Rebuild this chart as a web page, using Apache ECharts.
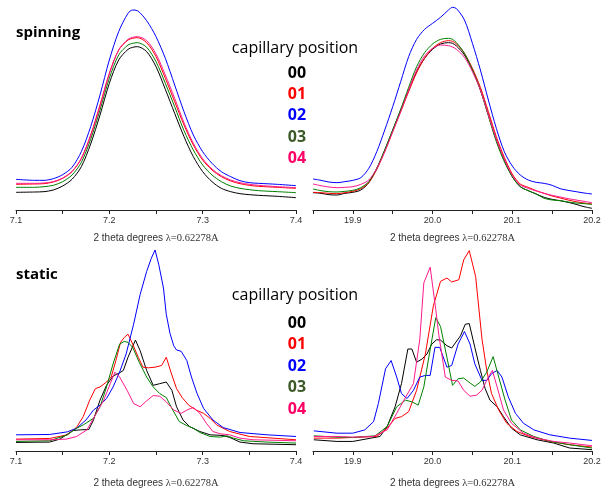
<!DOCTYPE html>
<html>
<head>
<meta charset="utf-8">
<script src="https://cdn.jsdelivr.net/npm/echarts@6/dist/echarts.min.js"></script>
<style>
  html, body { margin: 0; padding: 0; background: #fff; }
  #chart { width: 607px; height: 490px; }
</style>
</head>
<body>
<div id="chart"></div>
<script>
// Capillary positions and their colours
const positions = ['00', '01', '02', '03', '04'];
const lineColors = ['#000000', '#ff0000', '#0000ff', '#008000', '#ff1a8c'];
const labelColors = ['#000000', '#ff0000', '#0000ff', '#3b5a27', '#ff0066'];

// Axis tick labels (major) and ranges
const lowTicks = [7.1, 7.2, 7.3, 7.4];
const highTicks = [19.9, 20.0, 20.1, 20.2];

// ---- spinning, 7.1 - 7.4 deg ----
const spinLowX = [7.10, 7.12, 7.13, 7.14, 7.15, 7.16, 7.17, 7.18, 7.19, 7.20, 7.21, 7.22, 7.225, 7.23, 7.24, 7.25, 7.26, 7.27, 7.28, 7.29, 7.30, 7.31, 7.32, 7.33, 7.34, 7.35, 7.36, 7.38, 7.40];
const spinLow00 = [53, 54, 55, 60, 72, 92, 130, 198, 285, 380, 450, 482, 488, 490, 475, 430, 362, 290, 220, 160, 115, 85, 65, 55, 49, 46, 44, 41, 37];
const spinLow01 = [77, 78, 79, 84, 95, 115, 155, 225, 315, 410, 480, 510, 515, 517, 502, 460, 395, 325, 255, 195, 150, 120, 100, 87, 79, 74, 71, 68, 65];
const spinLow02 = [92, 89, 89, 94, 106, 128, 175, 250, 345, 450, 535, 590, 600, 598, 568, 520, 455, 375, 295, 225, 175, 140, 115, 100, 88, 82, 80, 77, 73];
const spinLow03 = [68, 68, 70, 74, 85, 105, 143, 212, 300, 395, 465, 495, 500, 502, 488, 445, 380, 310, 238, 180, 135, 105, 85, 72, 65, 61, 58, 55, 52];
const spinLow04 = [80, 80, 81, 85, 96, 116, 154, 222, 310, 408, 480, 512, 518, 520, 508, 468, 405, 335, 262, 200, 154, 123, 103, 90, 82, 77, 74, 70, 67];

// ---- spinning, 19.85 - 20.2 deg ----
const spinHighX = [19.85, 19.86, 19.87, 19.88, 19.89, 19.90, 19.91, 19.92, 19.93, 19.94, 19.95, 19.96, 19.97, 19.98, 19.99, 20.00, 20.01, 20.02, 20.025, 20.03, 20.04, 20.05, 20.06, 20.07, 20.08, 20.09, 20.10, 20.11, 20.12, 20.13, 20.14, 20.15, 20.16, 20.17, 20.18, 20.19, 20.20];
const spinHigh00 = [52, 50, 46, 45, 50, 53, 60, 82, 125, 180, 240, 300, 360, 415, 455, 482, 498, 502, 500, 492, 465, 420, 360, 285, 210, 150, 100, 70, 58, 48, 38, 32, 28, 23, 17, 10, 5];
const spinHigh01 = [53, 52, 50, 49, 52, 56, 64, 82, 122, 175, 235, 295, 355, 412, 455, 485, 502, 508, 506, 498, 470, 425, 368, 295, 220, 158, 108, 78, 68, 58, 50, 42, 36, 30, 25, 21, 18];
const spinHigh02 = [93, 89, 84, 82, 85, 89, 97, 125, 175, 240, 310, 385, 460, 512, 542, 560, 578, 600, 608, 604, 570, 500, 420, 330, 245, 175, 132, 105, 90, 83, 80, 74, 64, 59, 55, 51, 48];
const spinHigh03 = [63, 58, 55, 54, 56, 59, 67, 85, 125, 180, 240, 302, 368, 430, 472, 498, 512, 515, 512, 502, 470, 420, 360, 282, 205, 145, 100, 70, 58, 48, 35, 30, 28, 24, 21, 19, 17];
const spinHigh04 = [78, 73, 69, 67, 68, 70, 77, 90, 125, 175, 235, 295, 360, 420, 462, 485, 495, 493, 489, 482, 458, 415, 360, 285, 212, 152, 104, 75, 65, 57, 50, 44, 39, 34, 30, 26, 22];

// ---- static, 7.1 - 7.4 deg : [2theta, intensity] ----
const statLow00 = [[7.100, 26], [7.136, 27], [7.147, 36], [7.161, 62], [7.169, 64], [7.178, 65], [7.183, 94], [7.190, 154], [7.197, 199], [7.204, 227], [7.211, 237], [7.215, 244], [7.220, 284], [7.228, 336], [7.233, 304], [7.240, 244], [7.247, 199], [7.254, 204], [7.261, 209], [7.267, 184], [7.272, 134], [7.279, 94], [7.286, 74], [7.297, 59], [7.308, 49], [7.322, 47], [7.329, 41], [7.340, 27], [7.354, 22], [7.400, 19]];
const statLow01 = [[7.100, 36], [7.136, 38], [7.155, 49], [7.165, 72], [7.172, 104], [7.179, 154], [7.185, 189], [7.190, 194], [7.197, 209], [7.202, 224], [7.207, 274], [7.212, 329], [7.216, 344], [7.220, 354], [7.225, 324], [7.231, 284], [7.236, 254], [7.242, 252], [7.249, 254], [7.256, 259], [7.261, 284], [7.266, 239], [7.272, 189], [7.278, 162], [7.285, 139], [7.293, 124], [7.301, 114], [7.308, 99], [7.315, 79], [7.329, 59], [7.350, 44], [7.400, 34]];
const statLow02 = [[7.100, 49], [7.136, 50], [7.155, 58], [7.165, 69], [7.175, 94], [7.183, 124], [7.190, 139], [7.197, 159], [7.204, 194], [7.211, 239], [7.218, 294], [7.226, 384], [7.233, 474], [7.240, 544], [7.245, 584], [7.249, 609], [7.253, 564], [7.258, 494], [7.261, 414], [7.265, 356], [7.269, 319], [7.272, 306], [7.277, 302], [7.283, 274], [7.288, 224], [7.294, 174], [7.301, 129], [7.311, 94], [7.322, 71], [7.340, 56], [7.369, 49], [7.400, 44]];
const statLow03 = [[7.100, 29], [7.136, 31], [7.155, 49], [7.165, 69], [7.172, 79], [7.183, 99], [7.190, 134], [7.197, 194], [7.204, 264], [7.211, 324], [7.216, 332], [7.220, 329], [7.225, 314], [7.232, 269], [7.240, 224], [7.247, 194], [7.254, 174], [7.261, 162], [7.268, 124], [7.275, 89], [7.283, 77], [7.290, 69], [7.297, 56], [7.308, 44], [7.319, 42], [7.326, 46], [7.333, 39], [7.344, 31], [7.369, 27], [7.400, 24]];
const statLow04 = [[7.100, 34], [7.136, 34], [7.154, 36], [7.165, 44], [7.176, 64], [7.186, 114], [7.194, 154], [7.201, 204], [7.206, 239], [7.211, 224], [7.219, 184], [7.226, 144], [7.233, 134], [7.240, 152], [7.247, 168], [7.254, 166], [7.261, 149], [7.269, 124], [7.277, 114], [7.283, 124], [7.290, 132], [7.297, 114], [7.304, 84], [7.311, 59], [7.319, 52], [7.329, 49], [7.340, 39], [7.354, 34], [7.400, 31]];

// ---- static, 19.85 - 20.2 deg : [2theta, intensity] ----
const statHigh00 = [[19.851, 34], [19.880, 29], [19.900, 29], [19.934, 44], [19.943, 74], [19.953, 134], [19.961, 204], [19.969, 309], [19.974, 309], [19.980, 269], [19.987, 279], [19.993, 294], [19.999, 324], [20.005, 337], [20.010, 336], [20.018, 319], [20.024, 312], [20.035, 349], [20.041, 384], [20.046, 386], [20.053, 314], [20.060, 244], [20.066, 189], [20.072, 154], [20.081, 134], [20.089, 104], [20.099, 69], [20.110, 49], [20.131, 34], [20.152, 24], [20.172, 9], [20.200, 4]];
const statHigh01 = [[19.851, 39], [19.880, 39], [19.900, 41], [19.930, 44], [19.943, 69], [19.953, 99], [19.961, 104], [19.970, 119], [19.980, 184], [19.991, 294], [20.001, 440], [20.010, 514], [20.018, 524], [20.024, 512], [20.033, 519], [20.039, 579], [20.046, 607], [20.054, 529], [20.062, 339], [20.068, 244], [20.074, 174], [20.083, 124], [20.093, 84], [20.106, 59], [20.122, 44], [20.147, 29], [20.172, 19], [20.200, 12]];
const statHigh02 = [[19.851, 61], [19.880, 54], [19.900, 54], [19.915, 64], [19.926, 89], [19.932, 144], [19.941, 249], [19.948, 274], [19.955, 224], [19.961, 174], [19.968, 159], [19.976, 184], [19.984, 224], [19.991, 229], [19.997, 229], [20.003, 314], [20.009, 314], [20.018, 254], [20.024, 259], [20.032, 324], [20.040, 362], [20.047, 324], [20.053, 264], [20.062, 214], [20.068, 214], [20.074, 234], [20.081, 244], [20.087, 224], [20.095, 164], [20.104, 114], [20.114, 84], [20.127, 64], [20.147, 49], [20.172, 39], [20.200, 32]];
const statHigh03 = [[19.851, 46], [19.880, 42], [19.900, 41], [19.928, 46], [19.943, 74], [19.955, 134], [19.966, 154], [19.974, 149], [19.982, 139], [19.989, 194], [19.996, 294], [20.004, 404], [20.010, 377], [20.018, 284], [20.025, 199], [20.032, 219], [20.039, 221], [20.047, 206], [20.053, 196], [20.060, 209], [20.068, 239], [20.076, 286], [20.083, 224], [20.091, 154], [20.099, 94], [20.110, 64], [20.127, 44], [20.147, 29], [20.172, 19], [20.200, 9]];
const statHigh04 = [[19.851, 44], [19.880, 44], [19.900, 42], [19.926, 44], [19.943, 64], [19.955, 114], [19.964, 154], [19.976, 204], [19.984, 339], [19.989, 509], [19.997, 557], [20.004, 429], [20.008, 349], [20.016, 224], [20.024, 214], [20.032, 212], [20.039, 184], [20.047, 166], [20.055, 169], [20.062, 184], [20.070, 224], [20.075, 244], [20.081, 194], [20.089, 124], [20.099, 84], [20.114, 54], [20.131, 39], [20.152, 29], [20.172, 24], [20.200, 16]];

const spinLow = [spinLow00, spinLow01, spinLow02, spinLow03, spinLow04];
const spinHigh = [spinHigh00, spinHigh01, spinHigh02, spinHigh03, spinHigh04];
const statLow = [statLow00, statLow01, statLow02, statLow03, statLow04];
const statHigh = [statHigh00, statHigh01, statHigh02, statHigh03, statHigh04];

const SANS = '"Liberation Sans", Arial, sans-serif';
const SERIF = '"Liberation Serif", "Times New Roman", serif';
const TITLE_FONT = '"Open Sans", "Noto Sans", sans-serif';

function xAxis(gridIndex, lo, hi, majors, nameGap) {
  return {
    type: 'value', gridIndex, min: lo, max: hi, interval: 0.05,
    axisLine: { show: true, onZero: false, lineStyle: { color: '#222', width: 1 } },
    axisTick: { show: true, inside: false, length: 4, lineStyle: { color: '#222' } },
    splitLine: { show: false },
    axisLabel: {
      margin: 6, fontSize: 9, color: '#333', fontFamily: SANS,
      formatter: v => majors.some(m => Math.abs(m - v) < 1e-6) ? v.toFixed(1) : ''
    },
    name: '{a|2 theta degrees }{b|\u03bb=0.62278A}',
    nameLocation: 'middle', nameGap,
    nameTextStyle: {
      rich: {
        a: { fontFamily: SANS, fontSize: 10, color: '#333' },
        b: { fontFamily: SERIF, fontSize: 10.5, color: '#333' }
      }
    }
  };
}
function yAxis(gridIndex) {
  return { type: 'value', gridIndex, min: 0, max: 615, show: false };
}

const series = [];
positions.forEach((p, i) => {
  const base = { type: 'line', showSymbol: false, symbol: 'none', animation: false,
                 lineStyle: { width: 1, color: lineColors[i] }, name: p };
  series.push(Object.assign({}, base, { xAxisIndex: 0, yAxisIndex: 0, smooth: 0.3,
    data: spinLowX.map((x, k) => [x, spinLow[i][k]]) }));
  series.push(Object.assign({}, base, { xAxisIndex: 1, yAxisIndex: 1, smooth: 0.3,
    data: spinHighX.map((x, k) => [x, spinHigh[i][k]]) }));
  series.push(Object.assign({}, base, { xAxisIndex: 2, yAxisIndex: 2, data: statLow[i] }));
  series.push(Object.assign({}, base, { xAxisIndex: 3, yAxisIndex: 3, data: statHigh[i] }));
});

// Panel captions and the capillary-position key
const graphic = [];
function caption(text, x, y) {
  graphic.push({ type: 'text', x, y, style: { text, fontFamily: TITLE_FONT, fontWeight: 'bold',
    fontSize: 15, fill: '#000', textVerticalAlign: 'middle' } });
}
function key(yHead, yFirst, step) {
  graphic.push({ type: 'text', x: 295, y: yHead, style: { text: 'capillary position',
    fontFamily: TITLE_FONT, fontSize: 16, fill: '#000', textAlign: 'center', textVerticalAlign: 'middle' } });
  positions.forEach((p, i) => {
    graphic.push({ type: 'text', x: 297, y: yFirst + i * step, style: { text: p,
      fontFamily: TITLE_FONT, fontWeight: 'bold', fontSize: 16, fill: labelColors[i],
      textAlign: 'center', textVerticalAlign: 'middle' } });
  });
}
caption('spinning', 16, 33);
caption('static', 16, 275);
key(48, 73, 21.4);
key(295, 323, 21.6);

const chart = echarts.init(document.getElementById('chart'), null, { renderer: 'canvas' });
chart.setOption({
  animation: false,
  backgroundColor: '#ffffff',
  grid: [
    { left: 16, top: 5, width: 280, height: 205 },
    { left: 313, top: 5, width: 279, height: 205 },
    { left: 16, top: 248, width: 280, height: 205 },
    { left: 313, top: 248, width: 279, height: 205 }
  ],
  xAxis: [
    xAxis(0, 7.1, 7.4, lowTicks, 23),
    xAxis(1, 19.85, 20.2, highTicks, 23),
    xAxis(2, 7.1, 7.4, lowTicks, 27),
    xAxis(3, 19.85, 20.2, highTicks, 27)
  ],
  yAxis: [yAxis(0), yAxis(1), yAxis(2), yAxis(3)],
  series,
  graphic
});
</script>
</body>
</html>
